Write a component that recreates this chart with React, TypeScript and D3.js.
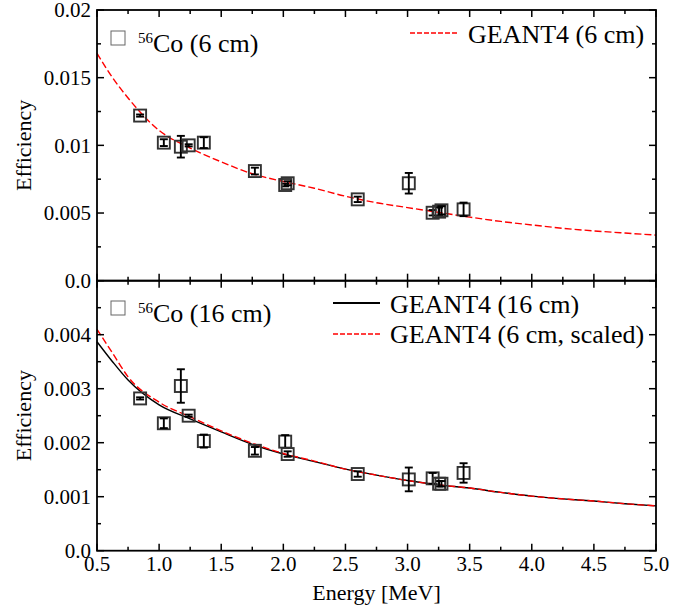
import React from 'react'
import * as d3 from 'd3'

// measured points, 56Co gamma lines (MeV)
const energies = [0.847, 1.038, 1.175, 1.238, 1.36, 1.771, 2.015, 2.035, 2.599, 3.01, 3.202, 3.254, 3.273, 3.451]
const eff6 = [0.0122, 0.0102, 0.0099, 0.01, 0.0102, 0.0081, 0.00707, 0.0072, 0.00601, 0.0072, 0.00502, 0.0051, 0.0052, 0.00527]
const err6 = [0.00008, 0.00025, 0.0008, 0.00008, 0.0004, 0.00025, 0.0001, 0.00015, 0.0002, 0.00076, 0.0002, 0.0003, 0.0003, 0.0005]
const eff16 = [0.00282, 0.00236, 0.00305, 0.0025, 0.00203, 0.00185, 0.00202, 0.00179, 0.00142, 0.00132, 0.00134, 0.00124, 0.00124, 0.00144]
const err16 = [0.00002, 0.00009, 0.00031, 0.00002, 0.00012, 0.00007, 0.00012, 0.00005, 0.00005, 0.00022, 0.0001, 0.00005, 0.00005, 0.00018]

// simulation curves
const curveEnergies = [0.5, 0.625, 0.75, 1.0, 1.25, 1.5, 1.75, 2.0, 2.25, 2.5, 2.75, 3.0, 3.25, 3.5, 3.75, 4.0, 4.25, 4.5, 4.75, 5.0]
const geant6 = [0.0168, 0.015, 0.0135, 0.0111, 0.0098, 0.00878, 0.0079, 0.00733, 0.00683, 0.00624, 0.00576, 0.0054, 0.00505, 0.0047, 0.00438, 0.00412, 0.00387, 0.00368, 0.00352, 0.00337]
const geant16 = [0.00387, 0.0035, 0.00316, 0.0027, 0.00244, 0.0022, 0.00197, 0.00179, 0.00165, 0.00151, 0.0014, 0.0013, 0.00122, 0.00116, 0.00108, 0.00101, 0.00096, 0.00092, 0.00087, 0.00083]
const geant6Scaled = [0.0041, 0.00366, 0.00322, 0.00275, 0.00248, 0.00222, 0.00199, 0.0018, 0.00166, 0.00151, 0.0014, 0.0013, 0.00122, 0.00116, 0.00108, 0.00101, 0.00096, 0.00092, 0.00087, 0.00083]

// ticks
const xTicks = [0.5, 1.0, 1.5, 2.0, 2.5, 3.0, 3.5, 4.0, 4.5, 5.0]
const xMinor = [0.75, 1.25, 1.75, 2.25, 2.75, 3.25, 3.75, 4.25, 4.75]
const topYTicks = [0, 0.005, 0.01, 0.015, 0.02]
const topYMinor = [0.0025, 0.0075, 0.0125, 0.0175]
const botYTicks = [0, 0.001, 0.002, 0.003, 0.004]
const botYMinor = [0.0005, 0.0015, 0.0025, 0.0035, 0.0045]

const font = 'Liberation Serif, DejaVu Serif, serif'
const left = 97
const right = 656
const x = d3.scaleLinear().domain([0.5, 5]).range([left, right])

function Panel({ y, top, bottom, yTicks, yMinor, yLabels, eff, err, curves, showXLabels }) {
  const line = d3
    .line<number>()
    .x((_, i) => x(curveEnergies[i]))
    .y((d) => y(d))
    .curve(d3.curveMonotoneX)
  const ax = { stroke: '#000', strokeWidth: 1.5 }
  const fmtY = (v) => (v === 0 ? '0.0' : String(v))
  return (
    <g>
      {curves.map((c, i) => (
        <path key={i} d={line(c.values)} fill="none" stroke={c.color} strokeWidth={1.4} strokeDasharray={c.dash} />
      ))}
      {energies.map((e, i) => {
        const cx = x(e)
        const cy = y(eff[i])
        const y1 = y(eff[i] + err[i])
        const y2 = y(eff[i] - err[i])
        return (
          <g key={i}>
            <rect x={cx - 6} y={cy - 6} width={12} height={12} fill="none" stroke="#333" strokeWidth={1.9} />
            <line x1={cx} x2={cx} y1={y1} y2={y2} stroke="#000" strokeWidth={1.9} />
            <line x1={cx - 4} x2={cx + 4} y1={y1} y2={y1} stroke="#000" strokeWidth={1.9} />
            <line x1={cx - 4} x2={cx + 4} y1={y2} y2={y2} stroke="#000" strokeWidth={1.9} />
          </g>
        )
      })}
      <rect x={left} y={top} width={right - left} height={bottom - top} fill="none" stroke="#000" strokeWidth={1.8} />
      {xTicks.map((t) => (
        <g key={'x' + t}>
          <line x1={x(t)} x2={x(t)} y1={bottom} y2={bottom - 7} {...ax} />
          <line x1={x(t)} x2={x(t)} y1={top} y2={top + 7} {...ax} />
        </g>
      ))}
      {xMinor.map((t) => (
        <g key={'xm' + t}>
          <line x1={x(t)} x2={x(t)} y1={bottom} y2={bottom - 4} {...ax} />
          <line x1={x(t)} x2={x(t)} y1={top} y2={top + 4} {...ax} />
        </g>
      ))}
      {yTicks.map((t) => (
        <g key={'y' + t}>
          <line x1={left} x2={left + 7} y1={y(t)} y2={y(t)} {...ax} />
          <line x1={right} x2={right - 7} y1={y(t)} y2={y(t)} {...ax} />
        </g>
      ))}
      {yMinor.map((t) => (
        <g key={'ym' + t}>
          <line x1={left} x2={left + 4} y1={y(t)} y2={y(t)} {...ax} />
          <line x1={right} x2={right - 4} y1={y(t)} y2={y(t)} {...ax} />
        </g>
      ))}
      {yLabels.map((t) => (
        <text key={'yl' + t} x={91} y={y(t)} dy="0.35em" textAnchor="end" fontSize={21}>
          {fmtY(t)}
        </text>
      ))}
      {showXLabels &&
        xTicks.map((t) => (
          <text key={'xl' + t} x={x(t)} y={bottom + 20} textAnchor="middle" fontSize={21}>
            {t.toFixed(1)}
          </text>
        ))}
      <text transform={`translate(31,${(top + bottom) / 2}) rotate(-90)`} textAnchor="middle" fontSize={22}>
        Efficiency
      </text>
    </g>
  )
}

export default function App() {
  const yTop = d3.scaleLinear().domain([0, 0.02]).range([280.7, 10])
  const yBot = d3.scaleLinear().domain([0, 0.005]).range([550.7, 280.7])
  return (
    <svg
      width={696}
      height={611}
      style={{ position: 'absolute', left: 0, top: 0, background: '#fff', fontFamily: font }}
    >
      <Panel
        y={yTop}
        top={10}
        bottom={280.7}
        yTicks={topYTicks}
        yMinor={topYMinor}
        yLabels={topYTicks}
        eff={eff6}
        err={err6}
        curves={[{ values: geant6, color: '#f00', dash: '7,3' }]}
        showXLabels={false}
      />
      <Panel
        y={yBot}
        top={280.7}
        bottom={550.7}
        yTicks={botYTicks}
        yMinor={botYMinor}
        yLabels={botYTicks}
        eff={eff16}
        err={err16}
        curves={[
          { values: geant16, color: '#000', dash: null },
          { values: geant6Scaled, color: '#f00', dash: '7,3' },
        ]}
        showXLabels={true}
      />
      <text x={376.5} y={600} textAnchor="middle" fontSize={22}>
        Energy [MeV]
      </text>

      {/* top legends */}
      <rect x={111} y={31} width={14} height={14} fill="none" stroke="#666" strokeWidth={1} />
      <text x={138} y={52} fontSize={26}>
        <tspan fontSize={15} dy={-9}>56</tspan>
        <tspan dy={9}>Co (6 cm)</tspan>
      </text>
      <line x1={410} x2={457} y1={33} y2={33} stroke="#f00" strokeWidth={1.6} strokeDasharray="5,2" />
      <text x={468} y={43} fontSize={26}>GEANT4 (6 cm)</text>

      {/* bottom legends */}
      <rect x={111} y={301} width={14} height={14} fill="none" stroke="#666" strokeWidth={1} />
      <text x={138} y={322} fontSize={26}>
        <tspan fontSize={15} dy={-9}>56</tspan>
        <tspan dy={9}>Co (16 cm)</tspan>
      </text>
      <line x1={333} x2={380} y1={303} y2={303} stroke="#000" strokeWidth={2} />
      <text x={390} y={313} fontSize={26}>GEANT4 (16 cm)</text>
      <line x1={333} x2={380} y1={334} y2={334} stroke="#f00" strokeWidth={1.6} strokeDasharray="5,2" />
      <text x={390} y={343} fontSize={26}>GEANT4 (6 cm, scaled)</text>
    </svg>
  )
}
